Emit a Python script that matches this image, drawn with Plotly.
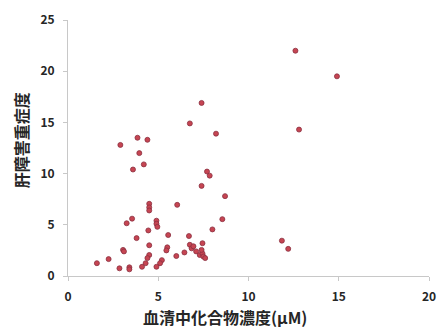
import plotly.graph_objects as go

x_conc = [12.6, 14.9, 12.8, 7.4, 8.2, 2.9, 3.85, 4.4, 6.75,
          3.95, 4.2, 3.6, 7.7, 7.85, 7.4, 8.7, 4.5, 4.5, 4.5, 6.05,
          8.55, 3.55, 3.25, 4.9, 4.9, 4.95, 4.45, 8.0, 5.55, 3.8, 6.7,
          7.45, 4.5, 6.75, 6.85, 6.95, 5.5, 5.45, 3.05, 3.1, 6.45, 6.0,
          7.1, 7.3, 7.45, 7.5, 7.6, 7.4, 4.5, 4.4, 5.2, 5.1, 4.3, 4.1,
          4.9, 2.25, 1.6, 2.85, 3.4, 3.4, 11.85, 12.2]
y_severity = [22.0, 19.5, 14.3, 16.9, 13.9, 12.8, 13.5, 13.3, 14.9,
              12.0, 10.9, 10.4, 10.2, 9.8, 8.8, 7.8, 7.05, 6.7, 6.4, 6.95,
              5.55, 5.6, 5.15, 5.4, 5.1, 4.8, 4.45, 4.55, 4.0, 3.7, 3.9,
              3.2, 3.0, 3.05, 2.7, 2.9, 2.8, 2.5, 2.55, 2.4, 2.3, 1.95,
              2.4, 2.05, 2.2, 1.9, 1.75, 2.55, 2.05, 1.75, 1.55, 1.25, 1.25, 0.9,
              0.9, 1.65, 1.25, 0.75, 0.85, 0.65, 3.45, 2.65]

x_ticks = [0, 5, 10, 15, 20]
y_ticks = [0, 5, 10, 15, 20, 25]
x_title = "血清中化合物濃度(μM)"
y_title = "肝障害重症度"

font_family = "Noto Sans CJK JP, Noto Sans, sans-serif"
text_color = "#262626"

fig = go.Figure(go.Scatter(
    x=x_conc, y=y_severity, mode="markers",
    marker=dict(size=5, color="#C64552", line=dict(color="#8a3040", width=0.8)),
    hoverinfo="skip",
))

axis_common = dict(
    showgrid=False, zeroline=False,
    showline=True, linecolor="#c8c8c8", linewidth=1, automargin=False,
    ticks="outside", ticklen=4, tickcolor="#c8c8c8",
    tickfont=dict(size=12, family=font_family, weight="bold", color=text_color),
    ticklabelstandoff=6,
)

fig.update_layout(
    width=442, height=330,
    margin=dict(l=68, r=13, t=20, b=54),
    paper_bgcolor="white", plot_bgcolor="white",
    showlegend=False,
    font=dict(family=font_family, color=text_color),
    xaxis=dict(range=[0, 20], tickvals=x_ticks, **axis_common),
    yaxis=dict(range=[0, 25], tickvals=y_ticks, **axis_common),
    annotations=[
        dict(text=x_title, xref="paper", yref="paper", x=0.436, y=-0.160,
             xanchor="center", yanchor="middle", showarrow=False,
             font=dict(size=16, family=font_family, weight="bold", color=text_color)),
        dict(text=y_title, xref="paper", yref="paper", x=-0.13, y=0.531,
             xanchor="center", yanchor="middle", showarrow=False, textangle=-90,
             font=dict(size=16, family=font_family, weight="bold", color=text_color)),
    ],
)

fig.write_html("out.html", config={"displayModeBar": False},
               post_script="document.body.style.margin='0px';")
